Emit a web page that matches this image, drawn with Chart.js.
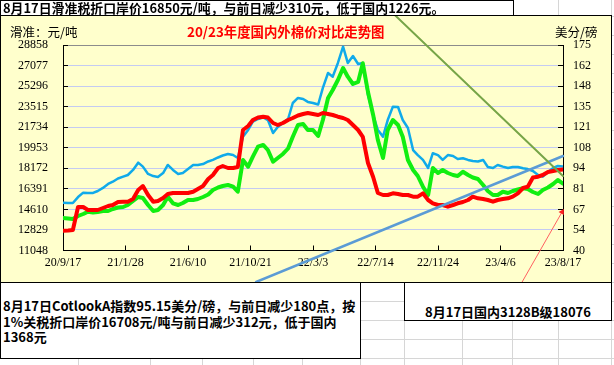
<!DOCTYPE html>
<html>
<head>
<meta charset="utf-8">
<script src="https://cdn.jsdelivr.net/npm/chart.js@4.4.0/dist/chart.umd.min.js"></script>
<style>
  body { margin: 0; width: 614px; height: 365px; overflow: hidden; background: #fff; position: relative;
         font-family: "Noto Sans CJK SC", sans-serif; }
  .gl { position: absolute; background: #d6d6d6; }
  .box { position: absolute; background: #fff; border: 1px solid #000; box-sizing: border-box;
         font-weight: bold; font-size: 13px; color: #000; white-space: nowrap; z-index: 3; }
  #chartBox { position: absolute; left: 0; top: 15px; width: 612px; height: 268px; box-sizing: border-box;
              border: 1px solid #000; background: #ffffcc; z-index: 2; }
  #chartBox .inner { position: relative; width: 610px; height: 266px; }
  .lbl { position: absolute; z-index: 4; font-size: 12.5px; line-height: 16px; color: #000; white-space: nowrap; }
</style>
</head>
<body>
<div class="box" style="left:0;top:0;width:514px;height:16px;padding-left:2px;line-height:14px;font-size:12.9px;">8月17日滑准税折口岸价16850元/吨，与前日减少310元，低于国内1226元。</div>
<div id="chartBox"><div class="inner"><canvas id="myChart"></canvas></div></div>
<div class="lbl" style="left:10px;top:24px;">滑准：元/吨</div>
<div class="lbl" style="left:187px;top:23px;color:#ff0000;font-weight:bold;font-size:13.4px;">20/23年度国内外棉价对比走势图</div>
<div class="lbl" style="left:555px;top:24px;">美分/磅</div>
<div class="box" style="left:0;top:282px;width:361px;height:77px;padding:15px 0 0 2px;line-height:15.5px;">8月17日CotlookA指数95.15美分/磅，与前日减少180点，按<br>1%关税折口岸价16708元/吨与前日减少312元，低于国内<br>1368元</div>
<div class="box" style="left:404px;top:282px;width:208px;height:39px;padding-top:21px;line-height:16px;text-align:center;">8月17日国内3128B级18076</div>
<script>
// days since 2020-09-17
const days = [0, 11, 21, 32, 43, 53, 64, 74, 85, 96,
  106, 117, 128, 138, 149, 160, 170, 181, 192, 202,
  213, 223, 234, 245, 255, 266, 277, 287, 298, 309,
  319, 330, 340, 351, 362, 372, 383, 394, 404, 415,
  426, 436, 447, 457, 468, 479, 489, 500, 511, 521,
  532, 543, 553, 564, 574, 585, 596, 606, 617, 628,
  638, 649, 660, 670, 681, 691, 702, 713, 723, 734,
  745, 755, 766, 777, 787, 798, 808, 819, 830, 840,
  851, 862, 872, 883, 894, 904, 915, 925, 936, 947,
  957, 968, 979, 989, 1000, 1011, 1021, 1032, 1043, 1053,
  1064];

// domestic 3128B, yuan/t (red)
const domestic3128B = [12764, 12781, 12825, 14818, 14818, 14558, 14558, 14558, 14731, 14905,
  14991, 15251, 15277, 15277, 15511, 16291, 16638, 15858, 15277, 15338,
  15598, 15945, 16031, 16031, 16031, 16031, 16144, 16378, 16638, 17245,
  17591, 18198, 18372, 18198, 18198, 18285, 21492, 21838, 22358, 22575,
  22644, 22575, 22098, 21925, 22098, 22358, 22532, 22748, 22878, 22965,
  22878, 22792, 22965, 22878, 22792, 22644, 22532, 22358, 21925, 21492,
  20900, 18631, 17418, 16031, 15858, 15858, 16005, 15945, 15858, 15858,
  15711, 15711, 16005, 15425, 15139, 14991, 14991, 14844, 14991, 15139,
  15251, 15425, 15711, 15572, 15511, 15425, 15277, 15425, 15511, 15572,
  15711, 16005, 16465, 16577, 17375, 17444, 17591, 17852, 17938, 18025,
  18076];

// import price with sliding-scale duty, yuan/t (green)
const slidingDutyPrice = [13865, 13821, 13778, 14038, 14211, 14411, 14341, 14385, 14471, 14471,
  14645, 14775, 14818, 14991, 15338, 15685, 15598, 14991, 14471, 14558,
  14991, 15711, 15139, 14991, 15165, 15425, 15425, 15511, 15685, 15901,
  16291, 16508, 16638, 16725, 16577, 16144, 18892, 18311, 19178, 20044,
  20192, 19758, 18744, 19065, 19412, 19888, 20911, 21925, 22012, 21492,
  21492, 20972, 22358, 24265, 24959, 25825, 26865, 26111, 25479, 25652,
  27272, 24785, 22792, 20625, 19065, 21492, 22358, 21925, 20911, 18892,
  18025, 17505, 16577, 15858, 18198, 17765, 18025, 17765, 17591, 17505,
  17878, 17591, 17375, 17245, 16725, 16205, 15858, 15858, 16144, 16031,
  16205, 16335, 16439, 16378, 16118, 15945, 16291, 16508, 16811, 17158,
  16850];

// Cotlook A index, US cents/lb (blue, right axis)
const cotlookA = [71.4, 71.2, 71.2, 75.1, 78.0, 77.8, 77.8, 79.1, 81.1, 83.7,
  85.2, 87.3, 88.5, 89.6, 92.9, 97.7, 95.1, 90.3, 88.9, 88.3,
  90.9, 96.2, 92.9, 90.3, 90.9, 93.5, 96.2, 96.2, 96.8, 98.5,
  99.5, 101.1, 102.4, 103.4, 102.7, 100.8, 114.8, 119.2, 124.6, 126.4,
  127.4, 125.7, 117.2, 121.1, 123.8, 126.4, 136.9, 140.2, 139.5, 137.6,
  136.9, 135.9, 146.8, 156.6, 154.2, 163.2, 173.9, 163.2, 167.8, 162.5,
  163.2, 142.2, 129.0, 119.2, 114.8, 125.7, 134.5, 134.3, 125.7, 120.5,
  106.0, 102.7, 99.5, 94.2, 103.9, 102.7, 99.5, 102.7, 102.1, 100.1,
  100.6, 99.5, 98.8, 98.5, 99.5, 94.9, 94.2, 96.2, 95.1, 94.2,
  94.9, 94.9, 94.0, 93.5, 92.2, 89.6, 88.5, 91.6, 94.2, 95.5,
  95.15];

const xTickLabels = ['20/9/17', '21/1/28', '21/6/10', '21/10/21', '22/3/3', '22/7/14', '22/11/24', '23/4/6', '23/8/17'];
const leftTickLabels = ['11048', '12829', '14610', '16391', '18172', '19953', '21734', '23515', '25296', '27077', '28858'];
const rightTickLabels = ['40', '54', '67', '81', '94', '108', '121', '135', '148', '162', '175'];

// stray drawing shapes on the sheet, in chart units (day, yuan/t)
const olivePath = [[706, 31459], [1064, 17505]];
const bluePath = [[411, 8318], [1064, 19238]];
const arrowPath = [[977, 8318], [1062, 14385]];

// spreadsheet cell borders
const gridCols = [78, 150, 202, 253, 302, 360, 404, 462, 512, 558, 611];
gridCols.forEach(function (x) {
    const d = document.createElement('div');
    d.className = 'gl';
    d.style.cssText = 'left:' + x + 'px;top:0;width:1px;height:365px;';
    document.body.appendChild(d);
});
for (let y = 16; y < 365; y += 19) {
    const d = document.createElement('div');
    d.className = 'gl';
    d.style.cssText = 'left:0;top:' + y + 'px;width:614px;height:1px;';
    document.body.appendChild(d);
}

const pts = (arr) => days.map((d, i) => ({ x: d, y: arr[i] }));
const path = (p) => p.map((q) => ({ x: q[0], y: q[1] }));

Chart.defaults.font.family = 'Liberation Serif';
Chart.defaults.font.size = 12;
Chart.defaults.color = '#000';

const ctx = document.getElementById('myChart').getContext('2d');
const myChart = new Chart(ctx, {
    type: 'line',
    data: {
        datasets: [
            { label: 'olive', data: path(olivePath), borderColor: '#77a548', borderWidth: 2, pointRadius: 0, clip: false, order: -1, yAxisID: 'y' },
            { label: 'blueLine', data: path(bluePath), borderColor: '#5b9bd5', borderWidth: 2.5, pointRadius: 0, clip: false, order: -1, yAxisID: 'y' },
            { label: 'arrow', data: path(arrowPath), borderColor: '#ff6060', borderWidth: 1, clip: false, order: -1, yAxisID: 'y',
              pointRadius: [0, 3.5], pointStyle: 'triangle', pointRotation: 30, pointBackgroundColor: '#ff2020', pointBorderWidth: 0 },
            { label: '国内3128B', data: pts(domestic3128B), borderColor: '#ff0000', borderWidth: 4, pointRadius: 0, order: 1, yAxisID: 'y' },
            { label: '滑准税折口岸价', data: pts(slidingDutyPrice), borderColor: '#11ee11', borderWidth: 4, pointRadius: 0, order: 2, yAxisID: 'y' },
            { label: 'CotlookA', data: pts(cotlookA), borderColor: '#10aaea', borderWidth: 2.5, pointRadius: 0, order: 3, yAxisID: 'y1' }
        ]
    },
    options: {
        responsive: true,
        maintainAspectRatio: false,
        animation: false,
        layout: { padding: { top: 29, left: 0, right: 0, bottom: 0 } },
        plugins: { legend: { display: false }, tooltip: { enabled: false } },
        elements: { line: { tension: 0, borderJoinStyle: 'round', borderCapStyle: 'round' } },
        scales: {
            x: {
                type: 'linear',
                min: 0,
                max: 1064,
                afterFit: (s) => { s.height = 31.5; },
                border: { color: '#000', width: 1 },
                grid: { drawOnChartArea: false, color: '#000', tickLength: -5 },
                ticks: {
                    stepSize: 133,
                    padding: 10,
                    maxRotation: 0,
                    autoSkip: false,
                    callback: (v, i) => xTickLabels[i]
                }
            },
            y: {
                position: 'left',
                min: 11048,
                max: 28858,
                afterFit: (s) => { s.width = 62; },
                border: { color: '#000', width: 1 },
                grid: {
                    color: (c) => (c.index === 10 ? '#8c8c8c' : '#c4cbf2'),
                    tickColor: '#000',
                    tickLength: -5
                },
                ticks: {
                    stepSize: 1781,
                    padding: 20,
                    callback: (v, i) => leftTickLabels[i]
                }
            },
            y1: {
                position: 'right',
                min: 40,
                max: 175,
                afterFit: (s) => { s.width = 48; },
                border: { color: '#000', width: 1 },
                grid: { drawOnChartArea: false, color: '#000', tickLength: -5 },
                ticks: {
                    stepSize: 13.5,
                    padding: 15,
                    callback: (v, i) => rightTickLabels[i]
                }
            }
        }
    }
});
</script>
</body>
</html>
